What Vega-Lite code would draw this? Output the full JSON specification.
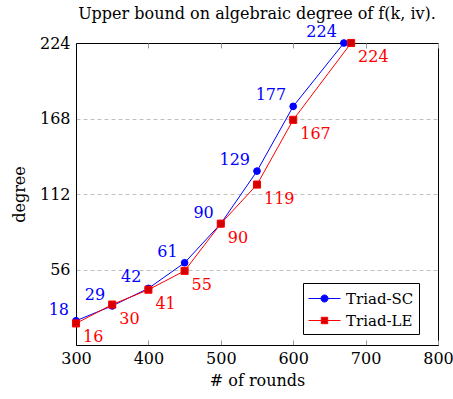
{
  "$schema": "https://vega.github.io/schema/vega-lite/v6.json",
  "width": 362,
  "height": 302,
  "autosize": {"type": "none"},
  "padding": {"left": 76, "top": 43, "right": 15, "bottom": 54},
  "title": {"text": "Upper bound on algebraic degree of f(k, iv).", "fontSize": 16, "fontWeight": "normal", "color": "black", "offset": 2},
  "config": {
    "font": "DejaVu Serif",
    "view": {"stroke": "black", "strokeWidth": 1},
    "axis": {"labelFontSize": 16, "titleFontSize": 16, "titleFontWeight": "normal", "labelColor": "black", "titleColor": "black", "domainColor": "black", "domainWidth": 1, "labelFlush": false},
    "legend": {"orient": "none", "legendX": 227, "legendY": 240, "strokeColor": "black", "fillColor": "white", "padding": 5, "labelFontSize": 15, "labelColor": "black", "rowPadding": 3, "labelOffset": 17, "symbolStrokeWidth": 1, "symbolSize": 400}
  },
  "data": {"values": [
    {"series": "Triad-SC", "rounds": 300, "degree": 18},
    {"series": "Triad-SC", "rounds": 350, "degree": 29},
    {"series": "Triad-SC", "rounds": 400, "degree": 42},
    {"series": "Triad-SC", "rounds": 450, "degree": 61},
    {"series": "Triad-SC", "rounds": 500, "degree": 90},
    {"series": "Triad-SC", "rounds": 550, "degree": 129},
    {"series": "Triad-SC", "rounds": 600, "degree": 177},
    {"series": "Triad-SC", "rounds": 670, "degree": 224},
    {"series": "Triad-LE", "rounds": 300, "degree": 16},
    {"series": "Triad-LE", "rounds": 350, "degree": 30},
    {"series": "Triad-LE", "rounds": 400, "degree": 41},
    {"series": "Triad-LE", "rounds": 450, "degree": 55},
    {"series": "Triad-LE", "rounds": 500, "degree": 90},
    {"series": "Triad-LE", "rounds": 550, "degree": 119},
    {"series": "Triad-LE", "rounds": 600, "degree": 167},
    {"series": "Triad-LE", "rounds": 680, "degree": 224}
  ]},
  "encoding": {
    "x": {"field": "rounds", "type": "quantitative", "scale": {"domain": [300, 800], "nice": false},
      "axis": {"orient": "bottom", "values": [300, 400, 500, 600, 700, 800], "tickSize": -5, "tickColor": "#999999", "labelPadding": 10, "grid": false, "title": "# of rounds", "titlePadding": 6}},
    "y": {"field": "degree", "type": "quantitative", "scale": {"domain": [0, 224], "nice": false},
      "axis": {"values": [56, 112, 168, 224], "ticks": false, "grid": true,
        "gridDash": {"condition": {"test": "datum.value === 224", "value": []}, "value": [4, 3]},
        "gridColor": {"condition": {"test": "datum.value === 224", "value": "black"}, "value": "#c0c0c0"},
        "labelPadding": 6, "title": "degree", "titlePadding": 12}}
  },
  "resolve": {"axis": {"x": "independent"}},
  "layer": [
    {
      "mark": {"type": "line", "strokeWidth": 1},
      "encoding": {
        "stroke": {"field": "series", "type": "nominal", "title": null, "scale": {"domain": ["Triad-SC", "Triad-LE"], "range": ["#0000ff", "#ff0000"]}}
      }
    },
    {
      "transform": [{"filter": "datum.series === 'Triad-SC'"}],
      "mark": {"type": "point", "shape": "circle", "filled": true, "opacity": 1, "size": 45, "fill": "#0000ff", "stroke": "#0000ff", "strokeWidth": 1},
      "encoding": {
        "x": {"field": "rounds", "type": "quantitative", "axis": {"orient": "top", "values": [300, 400, 500, 600, 700, 800], "labels": false, "domain": false, "tickSize": -5, "tickColor": "#999999", "grid": false, "title": null}}
      }
    },
    {
      "transform": [{"filter": "datum.series === 'Triad-LE'"}],
      "mark": {"type": "point", "shape": "square", "filled": true, "opacity": 1, "size": 50, "fill": "#d40000", "stroke": "#ff0000", "strokeWidth": 1},
      "encoding": {
        "x": {"field": "rounds", "type": "quantitative", "axis": null}
      }
    },
    {
      "transform": [{"filter": "datum.series === 'Triad-SC'"}],
      "mark": {"type": "text", "align": "right", "baseline": "alphabetic", "dx": -7, "dy": -6, "fontSize": 16, "color": "#0000ff"},
      "encoding": {
        "x": {"field": "rounds", "type": "quantitative", "axis": null},
        "text": {"field": "degree", "type": "quantitative"}
      }
    },
    {
      "transform": [{"filter": "datum.series === 'Triad-LE'"}],
      "mark": {"type": "text", "align": "left", "baseline": "top", "dx": 7, "dy": 6, "fontSize": 16, "color": "#ff0000"},
      "encoding": {
        "x": {"field": "rounds", "type": "quantitative", "axis": null},
        "text": {"field": "degree", "type": "quantitative"}
      }
    },
    {
      "transform": [{"filter": "false"}],
      "mark": {"type": "point", "filled": true, "opacity": 1, "size": 400, "strokeWidth": 1},
      "encoding": {
        "x": {"field": "rounds", "type": "quantitative", "axis": null},
        "fill": {"field": "series", "type": "nominal", "title": null, "scale": {"domain": ["Triad-SC", "Triad-LE"], "range": ["#0000ff", "#d40000"]}},
        "stroke": {"field": "series", "type": "nominal", "title": null},
        "shape": {"field": "series", "type": "nominal", "title": null, "scale": {"domain": ["Triad-SC", "Triad-LE"], "range": ["M-1,0L2.2,0M0.95,0A0.35,0.35,0,1,1,0.25,0A0.35,0.35,0,1,1,0.95,0Z", "M-1,0L2.2,0M0.28,-0.32L0.92,-0.32L0.92,0.32L0.28,0.32Z"]}}
      }
    }
  ]
}
